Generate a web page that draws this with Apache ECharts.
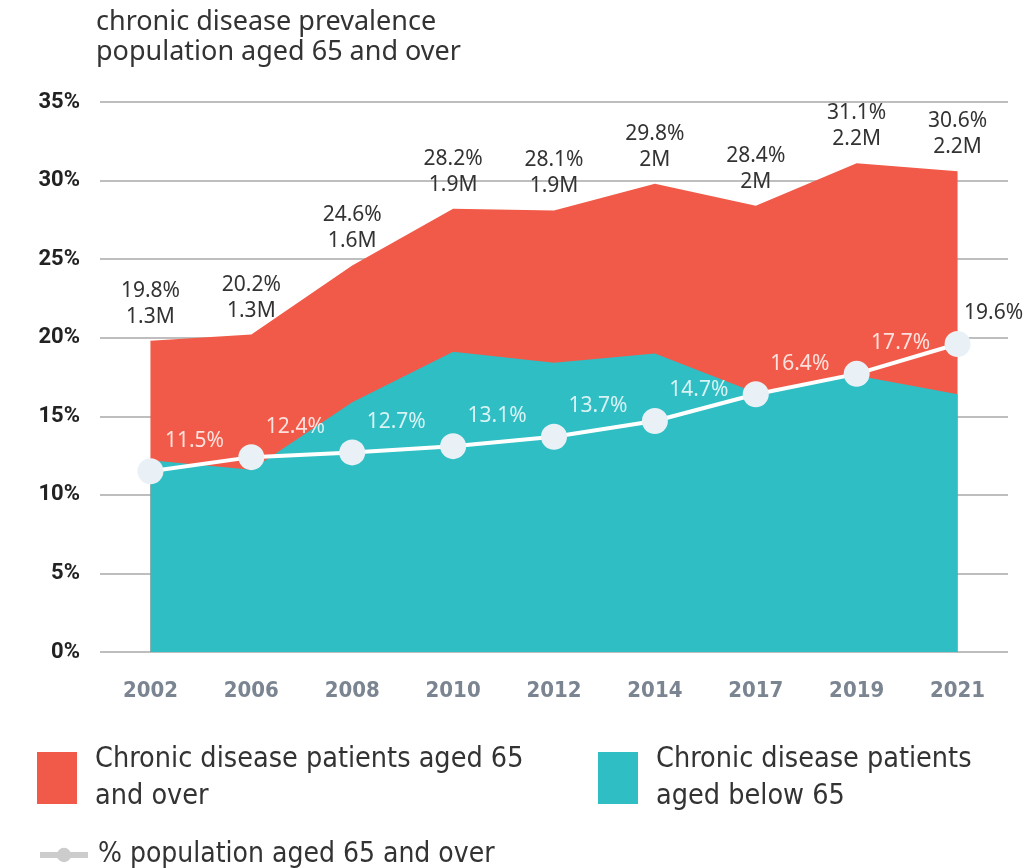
<!DOCTYPE html>
<html>
<head>
<meta charset="utf-8">
<script src="https://cdn.jsdelivr.net/npm/echarts@6/dist/echarts.min.js"></script>
<style>
  html, body { margin: 0; padding: 0; background: #fff; }
  #chart { width: 1030px; height: 868px; }
</style>
</head>
<body>
<div id="chart"></div>
<script>
// data
var years = ["2002", "2006", "2008", "2010", "2012", "2014", "2017", "2019", "2021"];
var totalPct = [19.8, 20.2, 24.6, 28.2, 28.1, 29.8, 28.4, 31.1, 30.6];
var totalCount = ["1.3M", "1.3M", "1.6M", "1.9M", "1.9M", "2M", "2M", "2.2M", "2.2M"];
var below65Pct = [12.2, 11.6, 15.9, 19.1, 18.4, 19.0, 16.5, 17.6, 16.4];
var pop65Pct = [11.5, 12.4, 12.7, 13.1, 13.7, 14.7, 16.4, 17.7, 19.6];
var yTicks = [0, 5, 10, 15, 20, 25, 30, 35];

var RED = "#f15a48";
var TEAL = "#2ebec4";
var NARROW = "'DejaVu Sans Condensed', 'DejaVu Sans', sans-serif";

var chart = echarts.init(document.getElementById("chart"));

// last point of the white line sits on the white background -> dark label
var lineData = pop65Pct.map(function (v, i) {
  if (i === pop65Pct.length - 1) {
    return { value: v, label: { color: "#333", offset: [36, 0] } };
  }
  return v;
});

chart.setOption({
  animation: false,
  title: {
    text: "chronic disease prevalence\npopulation aged 65 and over",
    left: 91,
    top: 2,
    textStyle: {
      fontFamily: "Noto Sans",
      fontWeight: "normal",
      fontSize: 27,
      lineHeight: 30,
      color: "#333",
    },
  },
  grid: { left: 100, right: 22, top: 102, bottom: 216 },
  legend: [
    {
      data: ["Chronic disease patients aged 65 and over"],
      left: 32,
      top: 736,
      icon: "rect",
      itemWidth: 40,
      itemHeight: 52,
      formatter: function () {
        return "Chronic disease patients aged 65\nand over";
      },
      textStyle: {
        fontFamily: NARROW,
        fontSize: 28.5,
        lineHeight: 37,
        color: "#333",
        padding: [0, 0, 0, 13],
      },
    },
    {
      data: ["Chronic disease patients aged below 65"],
      left: 593,
      top: 736,
      icon: "rect",
      itemWidth: 40,
      itemHeight: 52,
      formatter: function () {
        return "Chronic disease patients\naged below 65";
      },
      textStyle: {
        fontFamily: NARROW,
        fontSize: 28.5,
        lineHeight: 37,
        color: "#333",
        padding: [0, 0, 0, 13],
      },
    },
    {
      data: ["% population aged 65 and over"],
      left: 32,
      top: 836,
      itemWidth: 48,
      itemHeight: 18,
      itemStyle: { color: "#cccccc", borderWidth: 0 },
      lineStyle: { color: "#cccccc", width: 6 },
      textStyle: {
        fontFamily: NARROW,
        fontSize: 28,
        color: "#333",
        padding: [0, 0, 0, 5],
      },
    },
  ],
  xAxis: {
    type: "category",
    data: years,
    boundaryGap: true,
    axisLine: { show: false },
    axisTick: { show: false },
    axisLabel: {
      margin: 28,
      fontFamily: NARROW,
      fontWeight: "bold",
      fontSize: 22,
      color: "#7b8591",
    },
  },
  yAxis: {
    type: "value",
    min: yTicks[0],
    max: yTicks[yTicks.length - 1],
    interval: 5,
    axisLine: { show: false },
    axisTick: { show: false },
    splitLine: { lineStyle: { color: "#a8a8a8", width: 1.5 } },
    axisLabel: {
      margin: 20,
      fontFamily: "Roboto",
      fontWeight: "bold",
      fontSize: 22,
      color: "#222",
      formatter: function (v) {
        return v + "%";
      },
    },
  },
  series: [
    {
      name: "Chronic disease patients aged 65 and over",
      type: "line",
      data: totalPct,
      symbol: "circle",
      symbolSize: 0.1,
      itemStyle: { color: RED },
      lineStyle: { width: 0 },
      areaStyle: { color: RED, opacity: 1 },
      label: {
        show: true,
        position: "top",
        distance: 11,
        fontFamily: "Noto Sans",
        fontSize: 21,
        lineHeight: 26,
        color: "#333",
        formatter: function (p) {
          return totalPct[p.dataIndex] + "%\n" + totalCount[p.dataIndex];
        },
      },
      z: 1,
    },
    {
      name: "Chronic disease patients aged below 65",
      type: "line",
      data: below65Pct,
      symbol: "none",
      itemStyle: { color: TEAL },
      lineStyle: { width: 0 },
      areaStyle: { color: TEAL, opacity: 1 },
      z: 2,
    },
    {
      name: "% population aged 65 and over",
      type: "line",
      data: lineData,
      symbol: "circle",
      symbolSize: 26,
      itemStyle: { color: "#e9f1f6" },
      lineStyle: { color: "#ffffff", width: 4 },
      label: {
        show: true,
        position: "top",
        distance: 7,
        offset: [44, 0],
        fontFamily: "Noto Sans",
        fontSize: 21,
        color: "rgba(255,255,255,0.82)",
        formatter: function (p) {
          return p.value + "%";
        },
      },
      z: 3,
    },
  ],
});
</script>
</body>
</html>
